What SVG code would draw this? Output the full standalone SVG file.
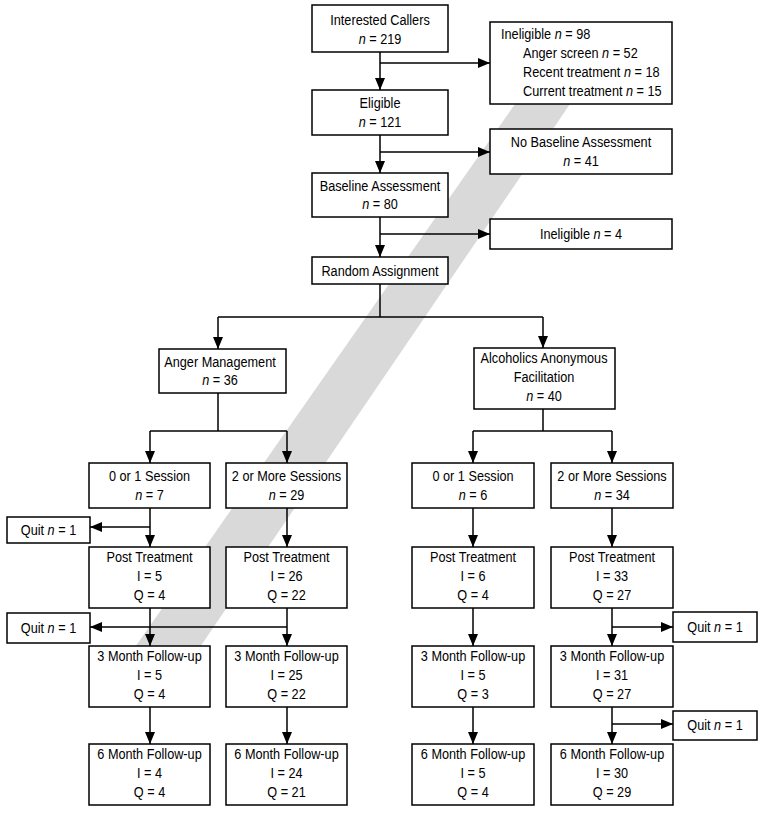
<svg xmlns="http://www.w3.org/2000/svg" width="764" height="813" viewBox="0 0 764 813">
<defs>
<marker id="ah" markerUnits="userSpaceOnUse" markerWidth="12" markerHeight="10" refX="12" refY="5" orient="auto">
<path d="M0,0 L12,5 L0,10 Z" fill="#000"/>
</marker>
<style>
.box{fill:#fff;stroke:#000;stroke-width:1.5}
text{font-family:"Liberation Sans",Arial,sans-serif;font-size:15.5px;fill:#000;text-anchor:middle}
.l{text-anchor:start}
.i{font-style:italic}
.c{fill:none;stroke:#000;stroke-width:1.5}
.a{fill:none;stroke:#000;stroke-width:1.5;marker-end:url(#ah)}
</style>
</defs>
<rect width="764" height="813" fill="#fff"/>
<polygon points="515,104 570,104 198,650 133,650" fill="#d9d9d9"/>
<g id="connectors">
<line class="a" x1="380" y1="52" x2="380" y2="90"/>
<line class="a" x1="380" y1="63" x2="490" y2="63"/>
<line class="a" x1="380" y1="135" x2="380" y2="173"/>
<line class="a" x1="380" y1="152" x2="490" y2="152"/>
<line class="a" x1="380" y1="217" x2="380" y2="257"/>
<line class="a" x1="380" y1="234" x2="490" y2="234"/>
<polyline class="c" points="380,284 380,317"/>
<polyline class="c" points="218,317 543,317"/>
<line class="a" x1="218" y1="317" x2="218" y2="349"/>
<line class="a" x1="543" y1="317" x2="543" y2="348"/>
<polyline class="c" points="218,393 218,431"/>
<polyline class="c" points="150,431 287,431"/>
<line class="a" x1="150" y1="431" x2="150" y2="463"/>
<line class="a" x1="287" y1="431" x2="287" y2="463"/>
<polyline class="c" points="543,409 543,431"/>
<polyline class="c" points="473,431 612,431"/>
<line class="a" x1="473" y1="431" x2="473" y2="463"/>
<line class="a" x1="612" y1="431" x2="612" y2="463"/>
<line class="a" x1="150" y1="508" x2="150" y2="547"/>
<line class="a" x1="150" y1="527" x2="90" y2="527"/>
<line class="a" x1="287" y1="508" x2="287" y2="547"/>
<line class="a" x1="473" y1="508" x2="473" y2="547"/>
<line class="a" x1="612" y1="508" x2="612" y2="547"/>
<line class="a" x1="150" y1="608" x2="150" y2="646"/>
<line class="a" x1="287" y1="608" x2="287" y2="646"/>
<line class="a" x1="287" y1="627" x2="90" y2="627"/>
<line class="a" x1="473" y1="608" x2="473" y2="646"/>
<line class="a" x1="612" y1="608" x2="612" y2="646"/>
<line class="a" x1="612" y1="627" x2="673" y2="627"/>
<line class="a" x1="150" y1="707" x2="150" y2="744"/>
<line class="a" x1="287" y1="707" x2="287" y2="744"/>
<line class="a" x1="473" y1="707" x2="473" y2="744"/>
<line class="a" x1="612" y1="707" x2="612" y2="744"/>
<line class="a" x1="612" y1="724" x2="673" y2="724"/>
</g>
<g id="callers"><rect class="box" x="312" y="5" width="136" height="47"/>
<text transform="translate(380 0) scale(.82 1)" y="25.5">Interested Callers</text><text transform="translate(380 0) scale(.82 1)" y="44"><tspan class="i">n</tspan> = 219</text></g>
<g id="ineligible98"><rect class="box" x="490" y="22" width="182" height="82"/>
<text class="l" transform="translate(501 0) scale(.82 1)" y="39.5">Ineligible <tspan class="i">n</tspan> = 98</text>
<text class="l" transform="translate(523 0) scale(.82 1)" y="58.5">Anger screen <tspan class="i">n</tspan> = 52</text>
<text class="l" transform="translate(523 0) scale(.82 1)" y="77.5">Recent treatment <tspan class="i">n</tspan> = 18</text>
<text class="l" transform="translate(523 0) scale(.82 1)" y="96.5">Current treatment <tspan class="i">n</tspan> = 15</text></g>
<g id="eligible"><rect class="box" x="312" y="90" width="136" height="45"/>
<text transform="translate(380 0) scale(.82 1)" y="108.5">Eligible</text><text transform="translate(380 0) scale(.82 1)" y="127"><tspan class="i">n</tspan> = 121</text></g>
<g id="noBaseline"><rect class="box" x="490" y="129" width="182" height="45"/>
<text transform="translate(581 0) scale(.82 1)" y="147.5">No Baseline Assessment</text><text transform="translate(581 0) scale(.82 1)" y="166"><tspan class="i">n</tspan> = 41</text></g>
<g id="baseline"><rect class="box" x="312" y="173" width="136" height="44"/>
<text transform="translate(380 0) scale(.82 1)" y="191">Baseline Assessment</text><text transform="translate(380 0) scale(.82 1)" y="209.5"><tspan class="i">n</tspan> = 80</text></g>
<g id="ineligible4"><rect class="box" x="490" y="219" width="182" height="30"/>
<text transform="translate(581 0) scale(.82 1)" y="239.5">Ineligible <tspan class="i">n</tspan> = 4</text></g>
<g id="random"><rect class="box" x="312" y="257" width="136" height="27"/>
<text transform="translate(380 0) scale(.82 1)" y="276">Random Assignment</text></g>
<g id="angerMgmt"><rect class="box" x="159" y="349" width="127" height="44"/>
<text transform="translate(220 0) scale(.82 1)" y="367">Anger Management</text><text transform="translate(220 0) scale(.82 1)" y="385.5"><tspan class="i">n</tspan> = 36</text></g>
<g id="aaFacilitation"><rect class="box" x="474" y="348" width="141" height="61"/>
<text transform="translate(544 0) scale(.82 1)" y="363.5">Alcoholics Anonymous</text><text transform="translate(544 0) scale(.82 1)" y="382.5">Facilitation</text><text transform="translate(544 0) scale(.82 1)" y="401.5"><tspan class="i">n</tspan> = 40</text></g>
<g id="amLow"><rect class="box" x="89" y="463" width="121" height="45"/>
<text transform="translate(149.5 0) scale(.82 1)" y="481">0 or 1 Session</text><text transform="translate(149.5 0) scale(.82 1)" y="500"><tspan class="i">n</tspan> = 7</text></g>
<g id="amHigh"><rect class="box" x="226" y="463" width="121" height="45"/>
<text transform="translate(286.5 0) scale(.82 1)" y="481">2 or More Sessions</text><text transform="translate(286.5 0) scale(.82 1)" y="500"><tspan class="i">n</tspan> = 29</text></g>
<g id="aaLow"><rect class="box" x="412" y="463" width="122" height="45"/>
<text transform="translate(473 0) scale(.82 1)" y="481">0 or 1 Session</text><text transform="translate(473 0) scale(.82 1)" y="500"><tspan class="i">n</tspan> = 6</text></g>
<g id="aaHigh"><rect class="box" x="551" y="463" width="122" height="45"/>
<text transform="translate(612 0) scale(.82 1)" y="481">2 or More Sessions</text><text transform="translate(612 0) scale(.82 1)" y="500"><tspan class="i">n</tspan> = 34</text></g>
<g id="quit1"><rect class="box" x="7" y="517" width="83" height="26"/>
<text transform="translate(48.5 0) scale(.82 1)" y="535.5">Quit <tspan class="i">n</tspan> = 1</text></g>
<g id="quit2"><rect class="box" x="7" y="613" width="83" height="30"/>
<text transform="translate(48.5 0) scale(.82 1)" y="633">Quit <tspan class="i">n</tspan> = 1</text></g>
<g id="quit3"><rect class="box" x="673" y="612" width="84" height="30"/>
<text transform="translate(715 0) scale(.82 1)" y="632.5">Quit <tspan class="i">n</tspan> = 1</text></g>
<g id="quit4"><rect class="box" x="673" y="711" width="84" height="29"/>
<text transform="translate(715 0) scale(.82 1)" y="730.5">Quit <tspan class="i">n</tspan> = 1</text></g>
<g id="amLowPost"><rect class="box" x="89" y="547" width="121" height="61"/>
<text transform="translate(149.5 0) scale(.82 1)" y="562">Post Treatment</text><text transform="translate(149.5 0) scale(.82 1)" y="581">I = 5</text><text transform="translate(149.5 0) scale(.82 1)" y="600">Q = 4</text></g>
<g id="amHighPost"><rect class="box" x="226" y="547" width="121" height="61"/>
<text transform="translate(286.5 0) scale(.82 1)" y="562">Post Treatment</text><text transform="translate(286.5 0) scale(.82 1)" y="581">I = 26</text><text transform="translate(286.5 0) scale(.82 1)" y="600">Q = 22</text></g>
<g id="aaLowPost"><rect class="box" x="412" y="547" width="122" height="61"/>
<text transform="translate(473 0) scale(.82 1)" y="562">Post Treatment</text><text transform="translate(473 0) scale(.82 1)" y="581">I = 6</text><text transform="translate(473 0) scale(.82 1)" y="600">Q = 4</text></g>
<g id="aaHighPost"><rect class="box" x="551" y="547" width="122" height="61"/>
<text transform="translate(612 0) scale(.82 1)" y="562">Post Treatment</text><text transform="translate(612 0) scale(.82 1)" y="581">I = 33</text><text transform="translate(612 0) scale(.82 1)" y="600">Q = 27</text></g>
<g id="amLow3m"><rect class="box" x="89" y="646" width="121" height="61"/>
<text transform="translate(149.5 0) scale(.82 1)" y="661">3 Month Follow-up</text><text transform="translate(149.5 0) scale(.82 1)" y="680">I = 5</text><text transform="translate(149.5 0) scale(.82 1)" y="699">Q = 4</text></g>
<g id="amHigh3m"><rect class="box" x="226" y="646" width="121" height="61"/>
<text transform="translate(286.5 0) scale(.82 1)" y="661">3 Month Follow-up</text><text transform="translate(286.5 0) scale(.82 1)" y="680">I = 25</text><text transform="translate(286.5 0) scale(.82 1)" y="699">Q = 22</text></g>
<g id="aaLow3m"><rect class="box" x="412" y="646" width="122" height="61"/>
<text transform="translate(473 0) scale(.82 1)" y="661">3 Month Follow-up</text><text transform="translate(473 0) scale(.82 1)" y="680">I = 5</text><text transform="translate(473 0) scale(.82 1)" y="699">Q = 3</text></g>
<g id="aaHigh3m"><rect class="box" x="551" y="646" width="122" height="61"/>
<text transform="translate(612 0) scale(.82 1)" y="661">3 Month Follow-up</text><text transform="translate(612 0) scale(.82 1)" y="680">I = 31</text><text transform="translate(612 0) scale(.82 1)" y="699">Q = 27</text></g>
<g id="amLow6m"><rect class="box" x="89" y="744" width="121" height="61"/>
<text transform="translate(149.5 0) scale(.82 1)" y="759">6 Month Follow-up</text><text transform="translate(149.5 0) scale(.82 1)" y="778">I = 4</text><text transform="translate(149.5 0) scale(.82 1)" y="797">Q = 4</text></g>
<g id="amHigh6m"><rect class="box" x="226" y="744" width="121" height="61"/>
<text transform="translate(286.5 0) scale(.82 1)" y="759">6 Month Follow-up</text><text transform="translate(286.5 0) scale(.82 1)" y="778">I = 24</text><text transform="translate(286.5 0) scale(.82 1)" y="797">Q = 21</text></g>
<g id="aaLow6m"><rect class="box" x="412" y="744" width="122" height="61"/>
<text transform="translate(473 0) scale(.82 1)" y="759">6 Month Follow-up</text><text transform="translate(473 0) scale(.82 1)" y="778">I = 5</text><text transform="translate(473 0) scale(.82 1)" y="797">Q = 4</text></g>
<g id="aaHigh6m"><rect class="box" x="551" y="744" width="122" height="61"/>
<text transform="translate(612 0) scale(.82 1)" y="759">6 Month Follow-up</text><text transform="translate(612 0) scale(.82 1)" y="778">I = 30</text><text transform="translate(612 0) scale(.82 1)" y="797">Q = 29</text></g>
</svg>
